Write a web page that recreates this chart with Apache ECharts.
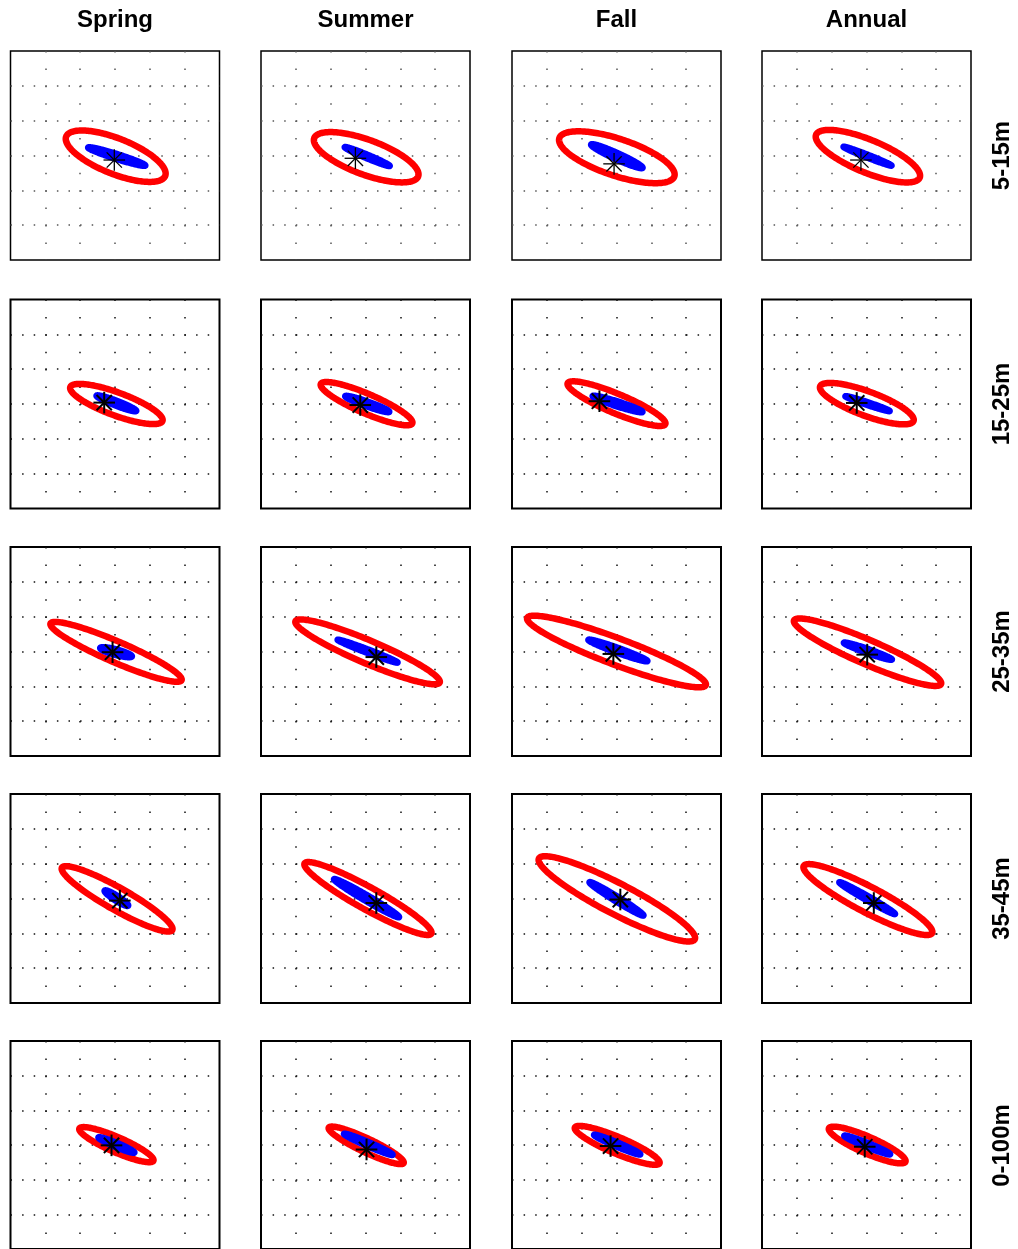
<!DOCTYPE html>
<html>
<head>
<meta charset="utf-8">
<title>Velocity variance ellipses by season and depth</title>
<script src="https://cdn.jsdelivr.net/npm/echarts@6/dist/echarts.min.js"></script>
<style>
  html, body { margin: 0; padding: 0; background: #ffffff; }
  #chart { width: 1018px; height: 1249px; }
</style>
</head>
<body>
<div id="chart"></div>
<script>
// Column and row headings
const seasons = ['Spring', 'Summer', 'Fall', 'Annual'];
const depthBins = ['5-15m', '15-25m', '25-35m', '35-45m', '0-100m'];

// Axis range shared by every panel (unlabelled, 6 grid cells each way)
const axisMin = -3;
const axisMax = 3;
const axisStep = 1;

// Outer ellipses: [centre x, centre y, semi-major, semi-minor, orientation in degrees]
// rows = depth bins, columns = seasons
const redEllipses = [
  [[0.02, -0.02, 1.53, 0.51, -21.7], [0.02, -0.05, 1.59, 0.50, -20.2], [0.01, -0.05, 1.74, 0.53, -18.4], [0.04, -0.02, 1.61, 0.47, -22.5]],
  [[0.04, 0.00, 1.41, 0.33, -20.2], [0.03, 0.01, 1.43, 0.28, -23.3], [0.00, 0.01, 1.52, 0.28, -22.7], [0.01, 0.01, 1.43, 0.35, -20.3]],
  [[0.03, -0.01, 2.05, 0.30, -23.4], [0.06, -0.01, 2.25, 0.33, -23.0], [0.00, 0.00, 2.74, 0.38, -20.6], [0.03, -0.02, 2.30, 0.35, -23.4]],
  [[0.06, -0.01, 1.82, 0.32, -29.5], [0.07, 0.00, 2.08, 0.32, -29.0], [0.01, -0.01, 2.52, 0.44, -27.4], [0.04, -0.03, 2.08, 0.37, -27.6]],
  [[0.04, 0.01, 1.16, 0.22, -23.6], [0.02, -0.01, 1.19, 0.20, -25.4], [0.02, -0.01, 1.32, 0.24, -23.0], [0.02, 0.00, 1.20, 0.24, -23.7]]
];

// Inner (narrow) ellipses, same layout
const blueEllipses = [
  [[0.05, -0.03, 0.86, 0.07, -17.5], [0.05, -0.03, 0.70, 0.05, -22.7], [0.01, -0.02, 0.81, 0.09, -24.4], [0.03, -0.02, 0.74, 0.04, -21.4]],
  [[0.04, 0.02, 0.61, 0.07, -21.0], [0.05, 0.00, 0.67, 0.07, -19.6], [0.03, 0.00, 0.75, 0.07, -17.7], [0.03, 0.01, 0.67, 0.04, -18.5]],
  [[0.03, -0.02, 0.47, 0.08, -14.9], [0.06, 0.01, 0.92, 0.05, -20.8], [0.04, 0.03, 0.90, 0.07, -19.8], [0.04, 0.01, 0.73, 0.06, -19.3]],
  [[0.04, 0.01, 0.40, 0.07, -32.7], [0.03, 0.01, 1.08, 0.08, -30.3], [0.00, -0.01, 0.91, 0.07, -31.7], [0.02, 0.01, 0.92, 0.06, -29.7]],
  [[0.04, 0.00, 0.56, 0.06, -23.0], [0.08, 0.02, 0.76, 0.06, -23.4], [0.02, 0.01, 0.72, 0.06, -23.0], [0.02, 0.00, 0.71, 0.06, -22.1]]
];

// Mean vectors marked with an asterisk: [x, y]
const meanPoints = [
  [[-0.02, -0.13], [-0.29, -0.08], [-0.07, -0.24], [-0.16, -0.13]],
  [[-0.31, 0.04], [-0.15, -0.03], [-0.49, 0.08], [-0.28, 0.03]],
  [[-0.07, -0.02], [0.31, -0.16], [-0.09, -0.07], [0.02, -0.09]],
  [[0.14, -0.06], [0.31, -0.13], [0.11, -0.03], [0.21, -0.13]],
  [[-0.10, -0.01], [0.03, -0.13], [-0.17, -0.03], [-0.05, -0.05]]
];

// Panel layout (pixels)
const colLeft = [10.5, 261, 512, 762];
const rowTop = [51, 299.5, 547, 794, 1041];
const panelSize = 209;
const labelFont = 'bold 24px "Liberation Sans", Arial, Helvetica, sans-serif';

function ellipseRenderer(style) {
  return function (params, api) {
    const cx = api.value(0), cy = api.value(1);
    const a = api.value(2), b = api.value(3);
    const ang = api.value(4) * Math.PI / 180;
    const ca = Math.cos(ang), sa = Math.sin(ang);
    const pts = [];
    const n = 200;
    for (let k = 0; k < n; k++) {
      const t = 2 * Math.PI * k / n;
      const ex = a * Math.cos(t), ey = b * Math.sin(t);
      pts.push(api.coord([cx + ex * ca - ey * sa, cy + ex * sa + ey * ca]));
    }
    return { type: 'polygon', shape: { points: pts }, style: style };
  };
}

function asteriskRenderer(width) {
  return function (params, api) {
    const p = api.coord([api.value(0), api.value(1)]);
    const r = 10.8, d = r * 0.7071;
    const arms = [[0, -r, 0, r], [-r, 0, r, 0], [-d, -d, d, d], [-d, d, d, -d]];
    return {
      type: 'group',
      children: arms.map(s => ({
        type: 'line',
        shape: { x1: p[0] + s[0], y1: p[1] + s[1], x2: p[0] + s[2], y2: p[1] + s[3] },
        style: { stroke: '#000000', lineWidth: width, lineCap: 'butt' }
      }))
    };
  };
}

const grids = [], xAxes = [], yAxes = [], series = [];
depthBins.forEach((depth, i) => {
  const frameWidth = i === 0 ? 1.5 : 2;
  const starWidth = i === 0 ? 1.3 : 2;
  const dotColor = i === 0 ? '#555555' : '#111111';
  seasons.forEach((season, j) => {
    const g = grids.length;
    grids.push({
      left: colLeft[j], top: rowTop[i], width: panelSize, height: panelSize,
      show: true, borderColor: '#000000', borderWidth: frameWidth, backgroundColor: '#ffffff'
    });
    const splitBase = { show: true, showMinLine: false, showMaxLine: false };
    xAxes.push({
      gridIndex: g, type: 'value', min: axisMin, max: axisMax, interval: axisStep,
      axisLine: { show: false }, axisTick: { show: false }, axisLabel: { show: false },
      splitLine: Object.assign({}, splitBase, { lineStyle: { color: dotColor, width: 1.5, type: [1.5, 15.9] } })
    });
    yAxes.push({
      gridIndex: g, type: 'value', min: axisMin, max: axisMax, interval: axisStep,
      axisLine: { show: false }, axisTick: { show: false }, axisLabel: { show: false },
      splitLine: Object.assign({}, splitBase, { lineStyle: { color: dotColor, width: 1.5, type: [1.5, 10.1] } })
    });
    series.push({
      type: 'custom', name: season + ' ' + depth + ' outer', xAxisIndex: g, yAxisIndex: g,
      renderItem: ellipseRenderer({ fill: 'none', stroke: '#ff0000', lineWidth: 6.5, lineJoin: 'round' }),
      encode: { x: 0, y: 1 }, data: [redEllipses[i][j]], silent: true, z: 2
    });
    series.push({
      type: 'custom', name: season + ' ' + depth + ' inner', xAxisIndex: g, yAxisIndex: g,
      renderItem: ellipseRenderer({ fill: '#0000ff', stroke: '#0000ff', lineWidth: 6.5, lineJoin: 'round' }),
      encode: { x: 0, y: 1 }, data: [blueEllipses[i][j]], silent: true, z: 3
    });
    series.push({
      type: 'custom', name: season + ' ' + depth + ' mean', xAxisIndex: g, yAxisIndex: g,
      renderItem: asteriskRenderer(starWidth),
      encode: { x: 0, y: 1 }, data: [meanPoints[i][j]], silent: true, z: 4
    });
  });
});

const graphics = [];
seasons.forEach((s, j) => {
  graphics.push({
    type: 'text', x: colLeft[j] + panelSize / 2, y: 20,
    style: { text: s, font: labelFont, fill: '#000000', align: 'center', verticalAlign: 'middle' }
  });
});
depthBins.forEach((d, i) => {
  graphics.push({
    type: 'text', x: 1002, y: rowTop[i] + panelSize / 2, rotation: Math.PI / 2,
    style: { text: d, font: labelFont, fill: '#000000', align: 'center', verticalAlign: 'middle' }
  });
});

const chart = echarts.init(document.getElementById('chart'), null, { renderer: 'canvas' });
chart.setOption({
  backgroundColor: '#ffffff',
  animation: false,
  grid: grids,
  xAxis: xAxes,
  yAxis: yAxes,
  series: series,
  graphic: graphics
});
</script>
</body>
</html>
